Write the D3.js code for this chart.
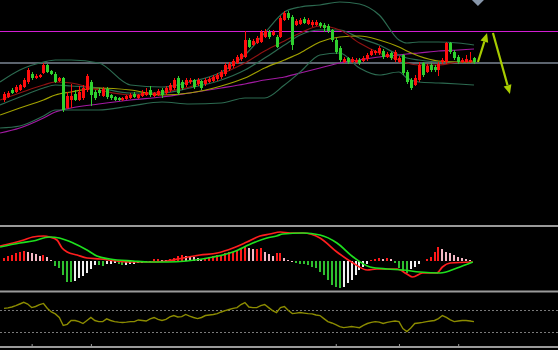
<!DOCTYPE html>
<html>
<head>
<meta charset="utf-8">
<script src="https://cdn.jsdelivr.net/npm/d3@7"></script>
<style>
	html, body { margin: 0; padding: 0; background: #000; overflow: hidden; }
</style>
</head>
<body>
<div id="chart"></div>
<script>
//////////////////////////// data /////////////////////////////////////////

// candles (one per session), prices
const candleOpen = [1200,1203,1210,1208,1210,1213,1218,1226,1222,1223,1227,1235,1229,1226,1219,1222,1192,1200,1206,1200,
	1202,1210,1218,1208,1210,1204,1211,1205,1203,1202,1200,1201,1202,1206,1202,1204,1205,1210,1204,1205,
	1210,1207,1210,1212,1222,1218,1215,1218,1220,1216,1219,1216,1218,1219,1221,1223,1226,1231,1234,1237,
	1241,1243,1260,1255,1257,1258,1263,1268,1265,1263,1263,1280,1287,1283,1275,1276,1281,1276,1275,1275,
	1277,1275,1274,1270,1260,1252,1238,1242,1238,1238,1240,1239,1241,1245,1247,1247,1249,1243,1247,1240,
	1238,1245,1228,1220,1215,1220,1237,1228,1235,1233,1230,1238,1238,1257,1248,1243,1238,1238,1238,1242];
const candleClose = [1206,1207,1207,1213,1215,1220,1230,1222,1224,1225,1235,1228,1226,1218,1222,1190,1204,1204,1200,1208,
	1212,1224,1205,1202,1207,1211,1203,1202,1200,1200,1202,1204,1205,1203,1205,1207,1208,1205,1207,1209,
	1205,1212,1215,1220,1207,1212,1220,1220,1213,1220,1212,1220,1221,1223,1225,1228,1235,1236,1239,1243,
	1246,1260,1253,1259,1262,1268,1269,1263,1268,1253,1282,1287,1282,1255,1279,1280,1277,1280,1278,1278,
	1274,1272,1269,1260,1248,1240,1241,1238,1241,1240,1237,1242,1245,1249,1249,1252,1243,1246,1242,1248,
	1242,1227,1218,1212,1222,1235,1225,1234,1230,1230,1236,1240,1257,1248,1242,1238,1240,1241,1240,1238];
const candleHigh = [1208,1209,1212,1215,1216,1222,1232,1228,1226,1226,1237,1236,1230,1228,1223,1223,1208,1216,1210,1214,
	1215,1226,1220,1210,1212,1213,1213,1206,1204,1203,1203,1205,1207,1208,1206,1210,1212,1214,1208,1211,
	1212,1214,1217,1222,1224,1220,1222,1222,1221,1222,1220,1222,1223,1225,1227,1230,1237,1238,1241,1245,
	1247,1269,1262,1261,1264,1270,1271,1270,1270,1265,1284,1289,1289,1285,1281,1282,1283,1282,1280,1280,
	1278,1277,1276,1271,1262,1254,1243,1243,1243,1242,1242,1244,1247,1251,1250,1254,1251,1248,1248,1250,
	1244,1246,1230,1222,1225,1238,1238,1236,1237,1235,1238,1242,1258,1258,1250,1245,1242,1245,1248,1243];
const candleLow = [1198,1202,1206,1207,1209,1212,1216,1220,1221,1222,1226,1227,1225,1217,1218,1188,1191,1192,1199,1199,
	1200,1208,1194,1200,1204,1203,1201,1200,1199,1199,1199,1200,1201,1202,1201,1203,1204,1203,1203,1204,
	1202,1205,1208,1210,1205,1210,1213,1216,1211,1214,1210,1214,1217,1218,1219,1221,1224,1229,1232,1236,
	1239,1242,1252,1254,1256,1257,1262,1261,1264,1252,1262,1279,1280,1250,1274,1275,1276,1275,1273,1274,
	1272,1268,1267,1258,1246,1238,1237,1236,1237,1237,1235,1238,1239,1244,1245,1245,1241,1242,1240,1238,
	1237,1225,1216,1210,1214,1218,1223,1227,1228,1228,1224,1236,1236,1246,1240,1236,1237,1237,1237,1236];

// overlay lines (bollinger bands and moving averages), read at these candle positions
const overlayIdx = [-1, 4, 10, 13, 17, 24, 32, 40, 47, 55, 61, 66, 71, 75, 80, 85, 90, 95, 100, 102, 105, 110, 115, 119];
const bollUpper = [1218,1230,1238,1240,1240,1237,1215,1213,1218,1228,1245,1267,1288,1293,1295,1298,1296,1285,1260,1257,1258,1258,1257,1255];
const bollMid = [1195,1203,1212,1215,1214,1212,1207,1207,1212,1220,1230,1242,1255,1265,1270,1270,1262,1255,1245,1242,1240,1238,1238,1238];
const bollLower = [1172,1174,1184,1190,1190,1190,1194,1198,1196,1197,1202,1202,1215,1228,1245,1247,1232,1225,1228,1222,1218,1217,1216,1215];
const maShort = [1200,1207,1215,1218,1217,1210,1205,1208,1213,1226,1237,1249,1259,1267,1274,1270,1257,1247,1240,1237,1235,1235,1238,1239];
const maMid = [1185,1192,1200,1205,1208,1212,1210,1205,1207,1214,1222,1232,1240,1247,1258,1263,1264,1260,1253,1249,1244,1239,1238,1238];
const maLong = [1167,1172,1182,1188,1192,1196,1200,1203,1207,1212,1216,1220,1223,1227,1232,1237,1240,1243,1245,1246,1247,1249,1250,1251];

// horizontal price levels
const levelPrices = [1269, 1238];
const levelColors = ["#d21ed2", "#5c646e"];

// signal arrows [fromIdx, fromPrice, toIdx, toPrice]
const signalArrows = [[120, 1238, 122.3, 1267], [123.8, 1267, 128.1, 1206]];
const markerIdx = 120;

// MACD histogram, one per candle
const macdHist = [3,5,6,8,9,10,9,8,7,5,6,4,1,-5,-7,-14,-21,-21,-20,-17,
	-15,-12,-8,-4,-4,-4.5,-3,-2.5,-2,-3,-4,-3.5,-3,-2.5,-2,-1.5,-1,-0.5,2,2,
	1.5,1,2.5,3,5,6,5.5,5,4.5,3.5,2,3,4,5,6,6.5,8,9,9.5,10,
	12,14,13,12,12.5,13,9,7,5,8,8.5,3,1,0,-1.5,-2.5,-3,-4,-6,-7,
	-11,-14,-19,-24,-26,-27,-26,-22,-19,-14,-9,-6,-3,1,2,3,2.5,3,2,-2,
	-7,-11,-12,-8,-6,-3,0.5,2,4,9,14,12,9,8,6,4,3,2,1,0.5];
// DIF / DEA lines [candle position, value]
const difLine = [[-1,15],[2.3,18],[5,21],[7.3,24],[10,25],[11.6,24],[13.4,21],[14.7,13],[16,9],[18.5,6],[21,3],[24.3,2],
	[28.6,0],[32.7,-1],[37,-1],[41.3,0],[45.3,3],[49.6,6],[54,8],[58,13],[61.5,19],[64.8,25],[67.3,27],[70,29],
	[72.4,28],[75.7,28],[80,23],[84.3,9],[88.4,-2],[92,-9],[94.4,-8],[99.5,-8],[102,-13],[103.5,-16],[106,-12],
	[109.6,-12],[111,-6],[113,-2],[118.7,-1]];
const deaLine = [[-1,14],[4,18],[7.3,20],[11.6,24],[14,23],[17.5,18],[21,11],[23.5,5],[26.8,2],[32.7,0],[37,-1],
	[41.3,-1],[46.3,0],[53,4],[58,9],[63,18],[66.6,23],[69,25],[70.6,27],[75.7,28],[80,26],[84.3,18],[88.4,4],
	[92.7,-6],[97,-8],[101,-9],[105.3,-11],[110.4,-12],[114.7,-7],[118.7,-1]];

// oscillator (0-100), one per candle
const oscValues = [72,73,74.5,77,80,83,80,73.5,75.5,79,81,72,65.5,62,55.5,41,43,50,50,48,
	44.5,50,55.5,50,48,48,53,50,48,47,46.5,47,48,48,51,50,49,53,55.5,52,
	50,52,56.5,59,56.5,57,61,58,55.5,53.5,55.5,59,60,61,62.5,65.5,68,70,72,73.5,
	79,82.5,74.5,73.5,73.5,77,79,73.5,68,64.5,73.5,75.5,68,62.5,63.5,64.5,63.5,62.5,62,60,
	59,53.5,48,45.5,42.5,39,37,38,39,38,37,41,44.5,46.5,48,47,44.5,46.5,48,49,
	48,35.5,30,36.5,44.5,45.5,46.5,48,49,50,53.5,59,55.5,51,48,49,50,50,49,48];
const oscLevels = [70, 30];

// axis ticks (candle positions)
const tickIdx = [7, 22, 84, 100, 115];

//////////////////////////// sizes ///////////////////////////////////////

const width = 558;
const height = 350;

const candles = candleOpen.map((o, i) => ({
	i: i,
	open: o,
	close: candleClose[i],
	high: candleHigh[i],
	low: candleLow[i]
}));

//////////////////////////// scales ///////////////////////////////////////

const xScale = d3.scaleLinear().domain([0, 119]).range([4, 474]);
const priceY = d3.scaleLinear().domain([1075, 1300]).range([225, 0]);
const macdY = d3.scaleLinear().domain([-30, 34]).range([291, 227]);
const oscY = d3.scaleLinear().domain([0, 100]).range([348, 293]);

const upColor = "#ff0d0d";
const downColor = "#2fd12f";

//////////////////////////// svg ///////////////////////////////////////

const svg = d3.select("#chart").append("svg")
	.attr("width", width)
	.attr("height", height)
	.style("display", "block")
	.style("background", "#000");

const defs = svg.append("defs");
defs.append("clipPath").attr("id", "mainClip")
	.append("rect").attr("x", 0).attr("y", 0).attr("width", width).attr("height", 224);
defs.append("clipPath").attr("id", "macdClip")
	.append("rect").attr("x", 0).attr("y", 228).attr("width", width).attr("height", 62);

//////////////////////////// main panel /////////////////////////////////

const main = svg.append("g").attr("clip-path", "url(#mainClip)");

// price levels (behind everything)
main.selectAll(".level")
	.data(levelPrices)
	.enter()
	.append("rect")
	.attr("class", "level")
	.attr("shape-rendering", "crispEdges")
	.attr("x", 0)
	.attr("width", width)
	.attr("y", (d) => Math.round(priceY(d)))
	.attr("height", (d, i) => (i === 0 ? 1 : 2))
	.attr("fill", (d, i) => levelColors[i]);

// overlays
const overlayLine = d3.line()
	.x((d) => xScale(d[0]))
	.y((d) => priceY(d[1]))
	.curve(d3.curveMonotoneX);

const overlays = [
	{ values: maLong, color: "#a21aa2" },
	{ values: bollLower, color: "#2c6a50" },
	{ values: bollUpper, color: "#2c6a50" },
	{ values: bollMid, color: "#2c6a50" },
	{ values: maMid, color: "#a0a000" },
	{ values: maShort, color: "#8e1212" }
];

main.selectAll(".overlay")
	.data(overlays)
	.enter()
	.append("path")
	.attr("class", "overlay")
	.attr("fill", "none")
	.attr("stroke", (d) => d.color)
	.attr("stroke-width", 1.2)
	.attr("d", (d) => overlayLine(overlayIdx.map((idx, k) => [idx, d.values[k]])));

// candles
const candleG = main.selectAll(".candle")
	.data(candles)
	.enter()
	.append("g")
	.attr("class", "candle")
	.attr("shape-rendering", "crispEdges");

candleG.append("line")
	.attr("x1", (d) => Math.round(xScale(d.i)) + 0.5)
	.attr("x2", (d) => Math.round(xScale(d.i)) + 0.5)
	.attr("y1", (d) => priceY(d.high))
	.attr("y2", (d) => priceY(d.low))
	.attr("stroke", (d) => (d.close >= d.open ? upColor : downColor))
	.attr("stroke-width", 1);

candleG.append("rect")
	.attr("x", (d) => Math.round(xScale(d.i)) - 1)
	.attr("width", 3)
	.attr("y", (d) => priceY(Math.max(d.open, d.close)))
	.attr("height", (d) => Math.max(1, Math.abs(priceY(d.open) - priceY(d.close))))
	.attr("fill", (d) => (d.close >= d.open ? upColor : downColor));

// signal arrows
const arrowG = main.append("g").attr("class", "arrows");
signalArrows.forEach((a) => {
	const x1 = xScale(a[0]);
	const y1 = priceY(a[1]);
	const x2 = xScale(a[2]);
	const y2 = priceY(a[3]);
	const ang = Math.atan2(y2 - y1, x2 - x1);
	const headLen = 9;
	const headW = 4;
	const bx = x2 - headLen * Math.cos(ang);
	const by = y2 - headLen * Math.sin(ang);
	arrowG.append("line")
		.attr("x1", x1).attr("y1", y1)
		.attr("x2", bx).attr("y2", by)
		.attr("stroke", "#a8cc00")
		.attr("stroke-width", 2.2);
	arrowG.append("path")
		.attr("d", `M${x2},${y2}L${bx + headW * Math.sin(ang)},${by - headW * Math.cos(ang)}L${bx - headW * Math.sin(ang)},${by + headW * Math.cos(ang)}Z`)
		.attr("fill", "#a8cc00");
});

// top marker
const mx = xScale(markerIdx);
main.append("path")
	.attr("d", `M${mx - 6},0L${mx + 6},0L${mx},6Z`)
	.attr("fill", "#8796aa");

//////////////////////////// MACD panel /////////////////////////////////

const macdG = svg.append("g").attr("clip-path", "url(#macdClip)");

const histColor = (d, i) => {
	const prev = i > 0 ? macdHist[i - 1] : d;
	if (d >= 0) return d >= prev ? "#ff1a1a" : "#f4b8c4";
	return d <= prev ? "#2fbf2f" : "#f0f0f0";
};

macdG.selectAll(".hist")
	.data(macdHist)
	.enter()
	.append("rect")
	.attr("class", "hist")
	.attr("shape-rendering", "crispEdges")
	.attr("x", (d, i) => Math.round(xScale(i)) - 1)
	.attr("width", 2)
	.attr("y", (d) => Math.min(macdY(d), macdY(0)))
	.attr("height", (d) => Math.max(0.6, Math.abs(macdY(d) - macdY(0))))
	.attr("fill", histColor);

const macdLine = d3.line()
	.x((d) => xScale(d[0]))
	.y((d) => macdY(d[1]))
	.curve(d3.curveMonotoneX);

macdG.append("path")
	.attr("fill", "none")
	.attr("stroke", "#ff1e1e")
	.attr("stroke-width", 1.7)
	.attr("d", macdLine(difLine));

macdG.append("path")
	.attr("fill", "none")
	.attr("stroke", "#1ee01e")
	.attr("stroke-width", 1.7)
	.attr("d", macdLine(deaLine));

//////////////////////////// oscillator panel ///////////////////////////

const oscG = svg.append("g");

oscG.selectAll(".osclevel")
	.data(oscLevels)
	.enter()
	.append("line")
	.attr("x1", 0)
	.attr("x2", width)
	.attr("y1", (d) => Math.round(oscY(d)) + 0.5)
	.attr("y2", (d) => Math.round(oscY(d)) + 0.5)
	.attr("stroke", "#7a7a7a")
	.attr("stroke-width", 1)
	.attr("stroke-dasharray", "2,2");

oscG.append("path")
	.attr("fill", "none")
	.attr("stroke", "#8c8c00")
	.attr("stroke-width", 1.4)
	.attr("d", d3.line()
		.x((d, i) => xScale(i))
		.y((d) => oscY(d))(oscValues));

//////////////////////////// frames /////////////////////////////////////

const separators = [226, 291.5];
svg.selectAll(".sep")
	.data(separators)
	.enter()
	.append("line")
	.attr("x1", 0)
	.attr("x2", width)
	.attr("y1", (d) => d)
	.attr("y2", (d) => d)
	.attr("stroke", "#9a9a9a")
	.attr("stroke-width", 2);

const xAxis = d3.axisTop(xScale)
	.tickValues(tickIdx)
	.tickSize(3)
	.tickSizeOuter(0)
	.tickFormat("");

const axisG = svg.append("g")
	.attr("transform", "translate(0,347)")
	.call(xAxis);
axisG.select(".domain").remove();
axisG.selectAll(".tick line").attr("stroke", "#9a9a9a");
axisG.append("line")
	.attr("x1", 0).attr("x2", width)
	.attr("y1", 0).attr("y2", 0)
	.attr("stroke", "#9a9a9a")
	.attr("stroke-width", 2);
</script>
</body>
</html>
